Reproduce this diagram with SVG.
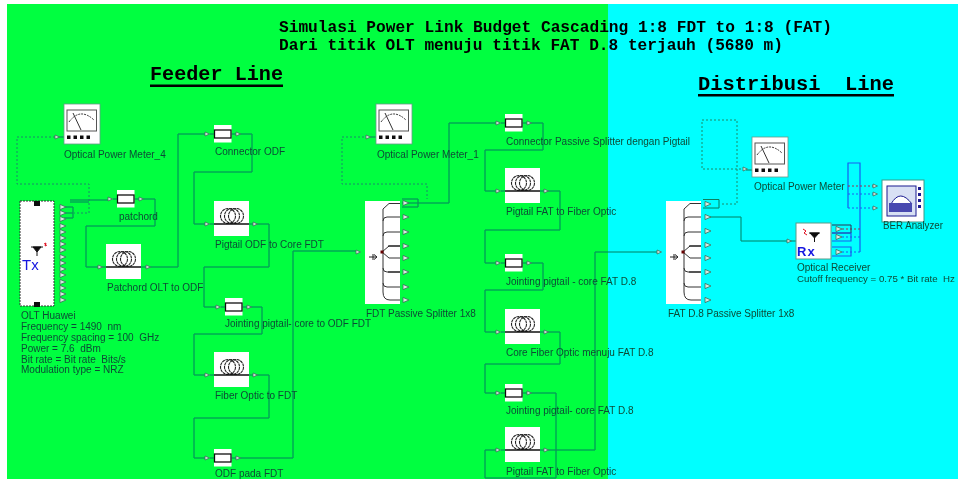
<svg xmlns="http://www.w3.org/2000/svg" width="958" height="479" viewBox="0 0 958 479">
<style>
text{font-family:"Liberation Sans",Arial,sans-serif;font-size:10px;fill:#0b4a35}
.t{font-family:"Liberation Mono","Courier New",monospace;font-weight:700;fill:#000}
.w{fill:#fff}
.c{fill:none;stroke:#0d7f60;stroke-width:1}
.d{fill:none;stroke:#1d8a68;stroke-width:1;stroke-dasharray:2 2}
.b{fill:none;stroke:#1a5cf0;stroke-width:1.200}
.bd{fill:none;stroke:#1a5cf0;stroke-width:1;stroke-dasharray:2 2}
.rd{fill:none;stroke:#a0304a;stroke-width:1;stroke-dasharray:2 2}
.s{fill:none;stroke:#222;stroke-width:1.100}
</style>
<defs>
<filter id="soft" x="0" y="0" width="100%" height="100%"><feGaussianBlur stdDeviation="0.45"/></filter>
<polygon id="pi" points="0,-2 4.500,0 0,2" fill="#d8e8e0" stroke="#3f6f5c" stroke-width=".8"/>
<polygon id="po" points="0,-2.600 6,0 0,2.600" fill="#d8e8e0" stroke="#3f6f5c" stroke-width=".8"/>
<g id="coil">
<path d="M-4 23H40" stroke="#0d7f60"/>
<rect class="w" width="35" height="35"/>
<g class="s" stroke-dasharray="3 .6"><circle cx="14" cy="15" r="7.500"/><circle cx="18" cy="15" r="7.500"/><circle cx="22" cy="15" r="7.500"/></g>
<path d="M0 23H35" stroke="#111" stroke-width="1.500"/>
</g>
<g id="conn">
<path d="M-4 9H22" stroke="#0d7f60"/>
<rect class="w" width="17.500" height="17.500"/>
<rect x="0.500" y="5" width="16.500" height="8" fill="#fff" stroke="#111" stroke-width="1.300"/>
</g>
<g id="meter">
<path d="M-6 33H2" stroke="#0d7f60"/>
<rect class="w" stroke="#6a9a88" stroke-width=".8" width="36" height="40"/>
<rect x="3" y="6" width="29.500" height="21" fill="#fff" stroke="#555"/>
<path d="M5 18Q16 3 30 16" fill="none" stroke="#333" stroke-dasharray="2 1"/>
<path d="M9 9L17 26" stroke="#333"/>
<path d="M3 31.500h3.500v3.500h-3.500zM9.500 31.500h3.500v3.500h-3.500zM16 31.500h3.500v3.500h-3.500zM22.500 31.500h3.500v3.500h-3.500z" fill="#111"/>
</g>
<g id="split">
<rect class="w" width="35" height="103"/>
<g fill="none" stroke="#333" stroke-width="1">
<path d="M35 2.500H24L18 8V45M35 16H22Q18 16 18 20M35 31H22Q18 31 18 35M18 70V91Q18 99 25 99H35M35 86H22Q18 86 18 82M35 71H22Q18 71 18 67"/>
<path d="M17 51L24 45H35M17 51L24 57H35M18 45V70"/>
</g>
<path d="M23 45H35M23 71H35" stroke="#111" stroke-width="1.200"/>
<path d="M4 56H12M9 53.500L12 56L9 58.500M8 53V59" fill="none" stroke="#222"/>
<rect x="15.500" y="49.500" width="3" height="3" fill="#600"/>
</g>
</defs>

<g filter="url(#soft)">
<rect width="958" height="479" fill="#fff"/>
<rect x="7" y="4" width="601" height="475" fill="#00ff41"/>
<rect x="608" y="4" width="350" height="475" fill="#00ffff"/>

<g id="titles">
<text class="t" x="279" y="32" textLength="553" lengthAdjust="spacingAndGlyphs" style="font-size:16px">Simulasi Power Link Budget Cascading 1:8 FDT to 1:8 (FAT)</text>
<text class="t" x="279" y="50" textLength="504" lengthAdjust="spacingAndGlyphs" style="font-size:16px">Dari titik OLT menuju titik FAT D.8 terjauh (5680 m)</text>
<text class="t" x="150" y="80" textLength="133" lengthAdjust="spacingAndGlyphs" style="font-size:20px">Feeder Line</text>
<rect x="150" y="84.500" width="133" height="2.500" fill="#000"/>
<text class="t" x="698" y="90" textLength="196" lengthAdjust="spacingAndGlyphs" style="font-size:20px" xml:space="preserve">Distribusi  Line</text>
<rect x="698" y="94" width="196" height="2.500" fill="#000"/>
</g>

<g id="connectors">
<path class="d" d="M55 137H17V184H89V213H74"/>
<path class="c" d="M64 207H73V218H64M64 213H73M70 200H108M70 202H89"/>
<path class="c" d="M141 199H155V226H86V267H98"/>
<path class="c" d="M146 267H178V134H206"/>
<path class="c" d="M237 134H252V172H194V224H206"/>
<path class="c" d="M254 224H269V267H204V307H216"/>
<path class="c" d="M248 307H262V334H194V375H206"/>
<path class="c" d="M254 375H269V418H194V458H206"/>
<path class="c" d="M237 458H293V251H356"/>
<path class="d" d="M368 137H342V184H427V199"/>
<path class="c" d="M402 199H418V207H402M402 203H449V123H497"/>
<path class="c" d="M528 123H543V150H485V191H497"/>
<path class="c" d="M546 191H560V230H485V263H497"/>
<path class="c" d="M528 263H543V290H485V332H497"/>
<path class="c" d="M546 332H560V364H485V393H497"/>
<path class="c" d="M528 393H556V478H485V450H497"/>
<path class="c" d="M546 450H595V252H658"/>
<path class="d" d="M745 169H702V120H737V204H720"/>
<path class="c" d="M703 199.500H719V208H703"/>
<path class="c" d="M708 217H741V241H796"/>
<path class="b" d="M848 208V163H860V252"/>
<path class="rd" d="M848 186H873"/>
<path class="bd" d="M848 194H873M848 208H873"/>
<path class="rd" d="M838 229H860"/>
<path class="bd" d="M838 237H860M838 252H860"/>
<path d="M832 225H851V233H832" fill="none" stroke="#335"/>
<path class="b" d="M832 233H851V241H832M832 247H851V256H832"/>
</g>

<g id="meter4"><use href="#meter" x="64" y="104"/><use href="#pi" x="55" y="137"/><text x="64" y="158">Optical Power Meter_4</text></g>

<g id="olt">
<rect x="20" y="201" width="34" height="105" fill="#fff" stroke="#333" stroke-dasharray="2 1"/>
<rect x="34" y="201" width="6" height="5" fill="#111"/><rect x="34" y="302" width="6" height="5" fill="#111"/>
<path d="M31 247H43M33 247L37 252L41 247ZM37 252V256" fill="#111" stroke="#111"/>
<path d="M44 244l2 -1l-1 3l2 -1" fill="none" stroke="#e01020"/>
<text x="22" y="270" style="font-size:15px;fill:#1515e0">Tx</text>
<use href="#po" x="60" y="207"/><use href="#po" x="60" y="213"/><use href="#po" x="60" y="219"/><use href="#po" x="60" y="226"/><use href="#po" x="60" y="232"/><use href="#po" x="60" y="238"/><use href="#po" x="60" y="244"/><use href="#po" x="60" y="250"/><use href="#po" x="60" y="257"/><use href="#po" x="60" y="263"/><use href="#po" x="60" y="269"/><use href="#po" x="60" y="275"/><use href="#po" x="60" y="282"/><use href="#po" x="60" y="288"/><use href="#po" x="60" y="294"/><use href="#po" x="60" y="300"/>
<text x="21" y="319">OLT Huawei</text>
<text x="21" y="330" xml:space="preserve">Frequency = 1490  nm</text>
<text x="21" y="341" xml:space="preserve">Frequency spacing = 100  GHz</text>
<text x="21" y="352" xml:space="preserve">Power = 7.6  dBm</text>
<text x="21" y="363" xml:space="preserve">Bit rate = Bit rate  Bits/s</text>
<text x="21" y="373">Modulation type = NRZ</text>
</g>

<g id="patchord"><use href="#conn" x="117" y="190"/><use href="#pi" x="108" y="199"/><use href="#pi" x="139" y="199"/><text x="119" y="220">patchord</text></g>
<g id="patchord-olt"><use href="#coil" x="106" y="244"/><use href="#pi" x="98" y="267"/><use href="#pi" x="146" y="267"/><text x="107" y="291">Patchord OLT to ODF</text></g>
<g id="connector-odf"><use href="#conn" x="214" y="125"/><use href="#pi" x="205" y="134"/><use href="#pi" x="236" y="134"/><text x="215" y="155">Connector ODF</text></g>
<g id="pigtail-odf"><use href="#coil" x="214" y="201"/><use href="#pi" x="205" y="224"/><use href="#pi" x="253" y="224"/><text x="215" y="248">Pigtail ODF to Core FDT</text></g>
<g id="jointing-odf"><use href="#conn" x="225" y="298"/><use href="#pi" x="216" y="307"/><use href="#pi" x="247" y="307"/><text x="225" y="327">Jointing pigtail- core to ODF FDT</text></g>
<g id="fiber-fdt"><use href="#coil" x="214" y="352"/><use href="#pi" x="205" y="375"/><use href="#pi" x="253" y="375"/><text x="215" y="399">Fiber Optic to FDT</text></g>
<g id="odf-fdt"><use href="#conn" x="214" y="449"/><use href="#pi" x="205" y="458"/><use href="#pi" x="236" y="458"/><text x="215" y="477">ODF pada FDT</text></g>

<g id="meter1"><use href="#meter" x="376" y="104"/><use href="#pi" x="366" y="137"/><text x="377" y="158">Optical Power Meter_1</text></g>
<g id="fdt-splitter"><use href="#split" x="365" y="201"/><use href="#pi" x="356" y="252"/>
<use href="#po" x="403" y="203"/><use href="#po" x="403" y="217"/><use href="#po" x="403" y="232"/><use href="#po" x="403" y="246"/><use href="#po" x="403" y="258"/><use href="#po" x="403" y="272"/><use href="#po" x="403" y="287"/><use href="#po" x="403" y="300"/>
<text x="366" y="317">FDT Passive Splitter  1x8</text></g>

<g id="connector-splitter"><use href="#conn" x="505" y="114"/><use href="#pi" x="496" y="123"/><use href="#pi" x="527" y="123"/><text x="506" y="145">Connector Passive Splitter dengan Pigtail</text></g>
<g id="pigtail-fat-1"><use href="#coil" x="505" y="168"/><use href="#pi" x="496" y="191"/><use href="#pi" x="544" y="191"/><text x="506" y="215">Pigtail FAT to Fiber Optic</text></g>
<g id="jointing-fat-1"><use href="#conn" x="505" y="254"/><use href="#pi" x="496" y="263"/><use href="#pi" x="527" y="263"/><text x="506" y="285">Jointing pigtail - core FAT D.8</text></g>
<g id="core-fiber"><use href="#coil" x="505" y="309"/><use href="#pi" x="496" y="332"/><use href="#pi" x="544" y="332"/><text x="506" y="356">Core Fiber Optic menuju FAT D.8</text></g>
<g id="jointing-fat-2"><use href="#conn" x="505" y="384"/><use href="#pi" x="496" y="393"/><use href="#pi" x="527" y="393"/><text x="506" y="414">Jointing pigtail- core FAT D.8</text></g>
<g id="pigtail-fat-2"><use href="#coil" x="505" y="427"/><use href="#pi" x="496" y="450"/><use href="#pi" x="544" y="450"/><text x="506" y="475">Pigtail FAT to Fiber Optic</text></g>

<g id="fat-splitter"><use href="#split" x="666" y="201"/><use href="#pi" x="657" y="252"/>
<use href="#po" x="705" y="204"/><use href="#po" x="705" y="217"/><use href="#po" x="705" y="231"/><use href="#po" x="705" y="245"/><use href="#po" x="705" y="258"/><use href="#po" x="705" y="272"/><use href="#po" x="705" y="286"/><use href="#po" x="705" y="300"/>
<text x="668" y="317">FAT D.8 Passive Splitter  1x8</text></g>

<g id="meter-fat"><use href="#meter" x="752" y="137"/><use href="#pi" x="743" y="169"/><text x="754" y="190">Optical Power Meter</text></g>

<g id="receiver">
<rect x="796" y="223" width="35" height="36" fill="#fff" stroke="#5a9a88"/>
<path d="M809 233H820M810 233L814.500 238L819 233ZM814.500 238V242" fill="#111" stroke="#111"/>
<path d="M803 229l3 2l-2 2l3 2" fill="none" stroke="#e01020"/>
<text x="797" y="256" style="font-size:13px;font-weight:700;letter-spacing:1px;fill:#1515e0">Rx</text>
<use href="#pi" x="787" y="241"/>
<use href="#po" x="836" y="229"/><use href="#po" x="836" y="237"/><use href="#po" x="836" y="252"/>
<text x="797" y="271">Optical Receiver</text>
<text x="797" y="282" style="font-size:9.700px" xml:space="preserve">Cutoff frequency = 0.75 * Bit rate  Hz</text>
</g>

<g id="ber">
<rect x="882" y="180" width="42" height="42" fill="#fff" stroke="#3a9a88"/>
<rect x="887" y="186" width="29" height="30" fill="#d8e0f4" stroke="#1a1a90"/>
<path d="M891 204Q900 188 912 204" fill="#fff" stroke="#1a1a90"/>
<rect x="889" y="203" width="23" height="9" fill="#4a4ab0"/>
<path d="M918 187h3v3h-3zM918 193h3v3h-3zM918 199h3v3h-3zM918 205h3v3h-3z" fill="#1a1a90"/>
<use href="#pi" x="873" y="186"/><use href="#pi" x="873" y="194"/><use href="#pi" x="873" y="208"/>
<text x="883" y="229" textLength="60" lengthAdjust="spacingAndGlyphs">BER Analyzer</text>
</g>
</g>
</svg>
